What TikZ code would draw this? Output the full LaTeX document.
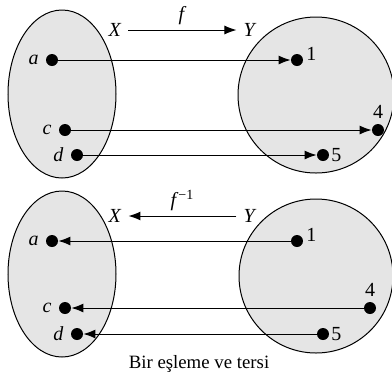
\documentclass[tikz,border=0pt]{standalone}
\usepackage{amsmath}
\usepackage{fontspec}
\setmainfont{Liberation Serif}
\usetikzlibrary{arrows.meta,positioning}

\tikzset{
  setshape/.style={draw,fill=black!10,line width=0.5pt},
  elem/.style={circle,fill=black,inner sep=0pt,minimum size=6pt},
  map/.style={-{Latex[length=6pt,width=4.5pt]},line width=0.5pt},
}

\begin{document}
\begin{tikzpicture}[x=0.5pt,y=-0.5pt,font=\fontsize{10}{12}\selectfont]
  \useasboundingbox (0,0) rectangle (392,377);
  % f : X -> Y
  \draw[setshape] (62,94) ellipse [x radius=27pt,y radius=42pt];
  \draw[setshape] (316,95) circle [radius=39pt];
  \node (X1) at (115,30) {\textit{X}};
  \node (Y1) at (250,30) {\textit{Y}};
  \draw[map] (X1) -- node[above=-1pt]{\textit{f}} (Y1);
  \node[elem,label=left:\textit{a}] (xa) at (52,60) {};
  \node[elem,label=left:\textit{c}] (xc) at (65,130) {};
  \node[elem,label=left:\textit{d}] (xd) at (77,155) {};
  \node[elem,label={[xshift=-2pt,yshift=3pt]right:1}] (y1) at (297,60) {};
  \node[elem,label={[yshift=-1pt]above:4}] (y4) at (378,130) {};
  \node[elem,label={[xshift=-2.5pt]right:5}] (y5) at (323,155) {};
  \draw[map] (xa) -- (y1);
  \draw[map] (xc) -- (y4);
  \draw[map] (xd) -- (y5);
  % inverse f^{-1} : Y -> X
  \draw[setshape] (62,274) ellipse [x radius=27pt,y radius=41.5pt];
  \draw[setshape] (316,276) circle [radius=38.5pt];
  \node (X2) at (115,216) {\textit{X}};
  \node (Y2) at (250,216) {\textit{Y}};
  \draw[map] (Y2) -- node[above=-1pt]{\textit{f}\textsuperscript{−1}} (X2);
  \node[elem,label=left:\textit{a}] (ia) at (52,241) {};
  \node[elem,label=left:\textit{c}] (ic) at (65,308) {};
  \node[elem,label=left:\textit{d}] (id) at (77,334) {};
  \node[elem,label={[xshift=-2pt,yshift=3pt]right:1}] (j1) at (297,241) {};
  \node[elem,label={[yshift=-1pt]above:4}] (j4) at (370,308) {};
  \node[elem,label={[xshift=-2.5pt]right:5}] (j5) at (323,334) {};
  \draw[map] (j1) -- (ia);
  \draw[map] (j4) -- (ic);
  \draw[map] (j5) -- (id);
  \node[font=\fontsize{9.4}{11}\selectfont] (cap) at (199,364) {Bir eşleme ve tersi};
\end{tikzpicture}
\end{document}
